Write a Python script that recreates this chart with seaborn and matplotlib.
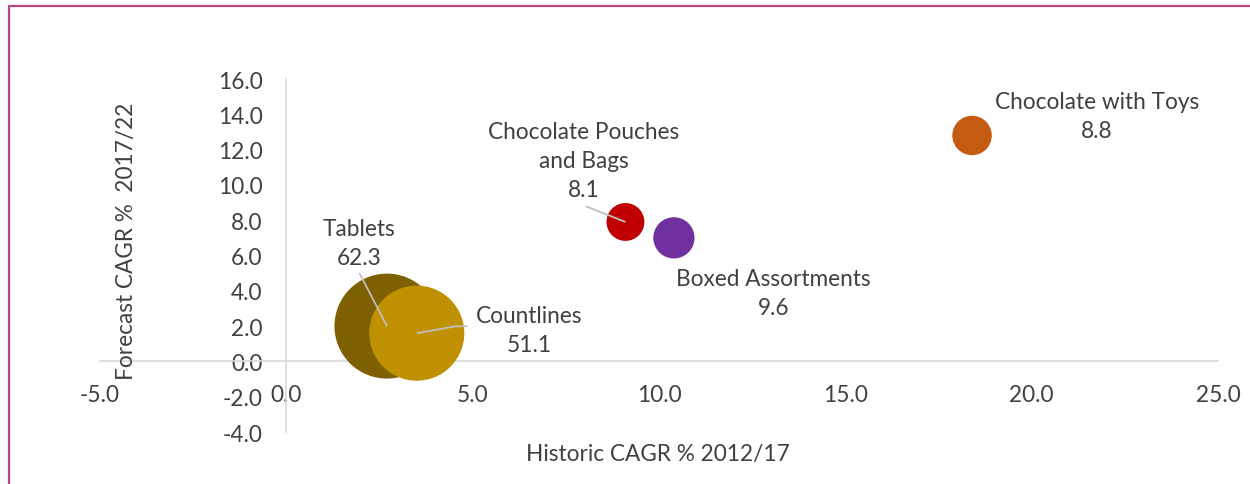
import matplotlib
matplotlib.use("Agg")
import matplotlib.pyplot as plt
from matplotlib.lines import Line2D
import seaborn as sns
import pandas as pd

# Category data
categories = ["Tablets", "Countlines", "Chocolate Pouches\nand Bags",
              "Boxed Assortments", "Chocolate with Toys"]
historic_cagr = [2.7, 3.5, 9.1, 10.4, 18.4]
forecast_cagr = [2.0, 1.6, 7.9, 7.0, 12.8]
market_size = [62.3, 51.1, 8.1, 9.6, 8.8]
bubble_colors = ["#7F6000", "#BF9000", "#C00000", "#7030A0", "#C55A11"]

x_ticks = [-5, 0, 5, 10, 15, 20, 25]
y_ticks = [-4, -2, 0, 2, 4, 6, 8, 10, 12, 14, 16]

# Label anchors (data coordinates, baseline of the last line) and leader-line starts
label_pos = {
    "Tablets": (1.94, 5.52),
    "Countlines": (6.51, 0.61),
    "Chocolate Pouches\nand Bags": (7.99, 9.35),
    "Boxed Assortments": (13.07, 2.69),
    "Chocolate with Toys": (21.75, 12.70),
}
leader_from = {
    "Tablets": [(1.96, 5.01)],
    "Countlines": [(4.86, 1.99), (4.55, 1.99)],
    "Chocolate Pouches\nand Bags": [(8.04, 8.79)],
}

df = pd.DataFrame({
    "category": categories,
    "historic": historic_cagr,
    "forecast": forecast_cagr,
    "size": market_size,
})

sns.set_style("white")
plt.rcParams["font.family"] = ["Lato", "DejaVu Sans"]
text_color = "#404040"
font_size = 16.3

fig = plt.figure(figsize=(12.5, 4.85), dpi=100)
ax = fig.add_axes([100 / 1250, 1 - 433 / 485, 1118 / 1250, 353 / 485])

max_size = max(market_size)
sns.scatterplot(
    data=df, x="historic", y="forecast", hue="category", size="size",
    palette=dict(zip(categories, bubble_colors)),
    sizes=(0, 5715), size_norm=(0, max_size),
    linewidth=0, alpha=1, legend=False, ax=ax, zorder=3,
)

ax.set_xlim(-5, 25)
ax.set_ylim(-4, 16)
ax.set_xticks(x_ticks)
ax.set_yticks(y_ticks)
ax.set_xticklabels([f"{v:.1f}" for v in x_ticks])
ax.set_yticklabels([f"{v:.1f}" for v in y_ticks])
ax.tick_params(axis="both", length=0, labelsize=font_size, colors=text_color)
ax.tick_params(axis="x", pad=16)
ax.tick_params(axis="y", pad=17)
ax.set_xlabel("")
ax.set_ylabel("")

# Axes crossing at zero
for side in ("top", "right"):
    ax.spines[side].set_visible(False)
ax.spines["left"].set_position(("data", 0))
ax.spines["bottom"].set_position(("data", 0))
for side in ("left", "bottom"):
    ax.spines[side].set_color("#D9D9D9")
    ax.spines[side].set_linewidth(1.2)
    ax.spines[side].set_zorder(1)

# Data labels with leader lines
for cat, x, y, v in zip(categories, historic_cagr, forecast_cagr, market_size):
    lx, ly = label_pos[cat]
    ax.text(lx, ly, f"{cat}\n{v:.1f}", ha="center", va="baseline",
            multialignment="center", fontsize=font_size, color=text_color,
            linespacing=1.47, zorder=5)
    if cat in leader_from:
        pts = leader_from[cat] + [(x, y)]
        ax.plot([p[0] for p in pts], [p[1] for p in pts], color="#BFBFBF",
                lw=1.3, zorder=4, solid_capstyle="butt")

# Axis titles
fig.text(657.5 / 1250, 1 - 460.7 / 485, "Historic CAGR % 2012/17",
         ha="center", va="baseline", fontsize=font_size, color=text_color)
fig.text(126 / 1250, 1 - 241.5 / 485, "Forecast CAGR %  2017/22",
         ha="center", va="center", rotation=90, fontsize=font_size,
         color=text_color)

# Chart frame
frame_color = "#B8487F"
fig.add_artist(Line2D([8.5 / 1250, 8.5 / 1250], [0, 1 - 6.5 / 485],
                      transform=fig.transFigure, color=frame_color, lw=1.6))
fig.add_artist(Line2D([8.5 / 1250, 1], [1 - 6.5 / 485, 1 - 6.5 / 485],
                      transform=fig.transFigure, color=frame_color, lw=1.6))

fig.savefig("out.png", dpi=100, facecolor="white")
